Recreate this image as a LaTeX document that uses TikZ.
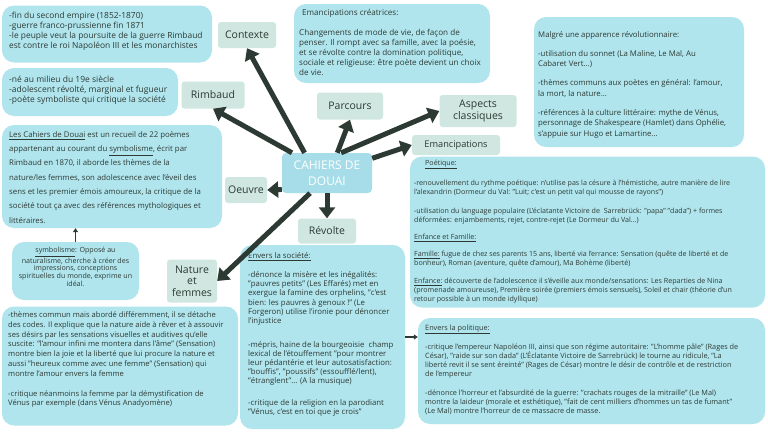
\documentclass[tikz,border=0pt]{standalone}
\usepackage{fontspec}
\setmainfont{Open Sans}
\usetikzlibrary{arrows.meta}
\definecolor{ink}{HTML}{2C3A33}
\definecolor{boxblue}{HTML}{B1E5EE}
\definecolor{lblgreen}{HTML}{CFE7E0}
\definecolor{hubblue}{HTML}{A6DDE8}
\tikzset{
  infobox/.style={fill=boxblue, rounded corners=12pt, inner sep=0pt},
  lbl/.style={fill=lblgreen, rounded corners=3pt, inner sep=1pt, align=center, text=ink,
    font=\fontsize{10.5}{11.5}\selectfont},
  hub/.style={fill=hubblue, rounded corners=4pt, align=center, text=white,
    font=\fontsize{12}{16}\selectfont},
  txt/.style={anchor=north west, inner sep=0pt, align=left, text=ink},
  bigarrow/.style={draw=ink, line width=5pt, -{Triangle[length=11pt,width=16pt]}},
  smallarrow/.style={draw=ink, line width=1.2pt, -{Triangle[length=4pt,width=5pt]}}
}
\begin{document}
\begin{tikzpicture}[x=1pt,y=-1pt]
\useasboundingbox[fill=white] (0,0) rectangle (768,431);

% information boxes
\node[infobox, minimum width=210pt, minimum height=57pt] (ctxbox) at (107,34) {};
\node[infobox, minimum width=176pt, minimum height=48pt] (rimbox) at (90,92) {};
\node[infobox, minimum width=220pt, minimum height=103pt] (oeubox) at (112,176.5) {};
\node[infobox, minimum width=127pt, minimum height=58pt] (symbox) at (75.5,271) {};
\node[infobox, minimum width=236pt, minimum height=119pt] (natbox) at (120,366) {};
\node[infobox, minimum width=196pt, minimum height=79pt] (emcbox) at (392,43.5) {};
\node[infobox, minimum width=210pt, minimum height=130pt] (malbox) at (639,82) {};
\node[infobox, minimum width=355pt, minimum height=151pt] (poebox) at (587.5,232) {};
\node[infobox, minimum width=165pt, minimum height=184pt] (socbox) at (322.5,337) {};
\node[infobox, minimum width=347pt, minimum height=106pt] (polbox) at (591.5,371) {};

% texts
\node[txt, font=\fontsize{8.4}{10}\selectfont] (ctxtxt) at (9,12.3) {-fin du second empire (1852-1870)\\
-guerre franco-prussienne fin 1871\\
-le peuple veut la poursuite de la guerre Rimbaud\\
est contre le roi Napoléon III et les monarchistes};

\node[txt, font=\fontsize{8.5}{10}\selectfont] (rimtxt) at (9,75.3) {-né au milieu du 19e siècle\\
-adolescent révolté, marginal et fugueur\\
-poète symboliste qui critique la société};

\node[txt, font=\fontsize{7.8}{14.3}\selectfont] (oeutxt) at (9,131.2) {\underline{Les Cahiers de Douai} est un recueil de 22 poèmes\\
appartenant au courant du \underline{symbolisme}, écrit par\\
Rimbaud en 1870, il aborde les thèmes de la\\
nature/les femmes, son adolescence avec l'éveil des\\
sens et les premier émois amoureux, la critique de la\\
société tout ça avec des références mythologiques et\\
littéraires.};

\node[inner sep=0pt, align=center, text=ink, font=\fontsize{7.1}{7.8}\selectfont] (symtxt) at (75.5,267) {\underline{symbolisme}: Opposé au\\
naturalisme, cherche à créer des\\
impressions, conceptions\\
spirituelles du monde, exprime un\\
idéal.};

\node[txt, font=\fontsize{7.6}{9.8}\selectfont] (nattxt) at (8,311.5) {-thèmes commun mais abordé différemment, il se détache\\
des codes. Il explique que la nature aide à rêver et à assouvir\\
ses désirs par les sensations visuelles et auditives qu'elle\\
suscite: "l'amour infini me montera dans l'âme" (Sensation)\\
montre bien la joie et la liberté que lui procure la nature et\\
aussi "heureux comme avec une femme" (Sensation) qui\\
montre l'amour envers la femme\\[10pt]
-critique néanmoins la femme par la démystification de\\
Vénus par exemple (dans Vénus Anadyomène)};

\node[txt, font=\fontsize{8.1}{10}\selectfont] (emctxt) at (299,9.2) {\hspace*{3pt}Emancipations créatrices:\\[10pt]
Changements de mode de vie, de façon de\\
penser. Il rompt avec sa famille, avec la poésie,\\
et se révolte contre la domination politique,\\
sociale et religieuse: être poète devient un choix\\
de vie.};

\node[txt, font=\fontsize{7.8}{10.5}\selectfont] (maltxt) at (538,31.3) {Malgré une apparence révolutionnaire:\\[8.5pt]
-utilisation du sonnet (La Maline, Le Mal, Au\\
Cabaret Vert...)\\[8.5pt]
-thèmes communs aux poètes en général: l'amour,\\
la mort, la nature...\\[8.5pt]
-références à la culture littéraire: mythe de Vénus,\\
personnage de Shakespeare (Hamlet) dans Ophélie,\\
s'appuie sur Hugo et Lamartine...};

\node[txt, font=\fontsize{7.1}{9}\selectfont] (poetxt) at (414,159.5) {\hspace*{11pt}\underline{Poétique:}\\[10pt]
-renouvellement du rythme poétique: n'utilise pas la césure à l'hémistiche, autre manière de lire\\
l'alexandrin (Dormeur du Val: "Luit; c'est un petit val qui mousse de rayons")\\[10pt]
-utilisation du language populaire (L'éclatante Victoire de\ \ Sarrebrück: "papa" "dada") + formes\\
déformées: enjambements, rejet, contre-rejet (Le Dormeur du Val...)\\[8pt]
\underline{Enfance et Famille:}\\[8pt]
\underline{Famille:} fugue de chez ses parents 15 ans, liberté via l'errance: Sensation (quête de liberté et de\\
bonheur), Roman (aventure, quête d'amour), Ma Bohème (liberté)\\[9pt]
\underline{Enfance:} découverte de l'adolescence il s'éveille aux monde/sensations: Les Reparties de Nina\\
(promenade amoureuse), Première soirée (premiers émois sensuels), Soleil et chair (théorie d'un\\
retour possible à un monde idyllique)};

\node[txt, font=\fontsize{7.8}{9.1}\selectfont] (soctxt) at (248,252.5) {\underline{Envers la société:}\\[10pt]
-dénonce la misère et les inégalités:\\
"pauvres petits" (Les Effarés) met en\\
exergue la famine des orphelins, "c'est\\
bien: les pauvres à genoux !" (Le\\
Forgeron) utilise l'ironie pour dénoncer\\
l'injustice\\[15pt]
-mépris, haine de la bourgeoisie\ \ champ\\
lexical de l'étouffement "pour montrer\\
leur pédantérie et leur autosatisfaction:\\
"bouffis", "poussifs" (essoufflé/lent),\\
"étranglent"... (A la musique)\\[13pt]
-critique de la religion en la parodiant\\
"Vénus, c'est en toi que je crois"};

\node[txt, font=\fontsize{7.3}{9}\selectfont] (poltxt) at (425,324.5) {\underline{Envers la politique:}\\[9pt]
-critique l'empereur Napoléon III, ainsi que son régime autoritaire: "L'homme pâle" (Rages de\\
César), "raide sur son dada" (L'Éclatante Victoire de Sarrebrück) le tourne au ridicule, "La\\
liberté revit il se sent éreinté" (Rages de César) montre le désir de contrôle et de restriction\\
de l'empereur\\[10pt]
-dénonce l'horreur et l'absurdité de la guerre: "crachats rouges de la mitraille" (Le Mal)\\
montre la laideur (morale et esthétique), "fait de cent milliers d'hommes un tas de fumant"\\
(Le Mal) montre l'horreur de ce massacre de masse.};

% labels
\node[lbl, minimum width=58pt, minimum height=26pt] (contexte) at (247,35) {Contexte};
\node[lbl, minimum width=63pt, minimum height=27pt] (rimbaud) at (213,95) {Rimbaud};
\node[lbl, minimum width=66pt, minimum height=27pt] (parcours) at (350,106) {Parcours};
\node[lbl, minimum width=77pt, minimum height=32pt] (aspects) at (478,111) {Aspects\\classiques};
\node[lbl, minimum width=88pt, minimum height=20pt, font=\fontsize{9.2}{10}\selectfont] (emancip) at (456,145) {Emancipations};
\node[lbl, minimum width=42pt, minimum height=26pt] (oeuvre) at (246,190) {Oeuvre};
\node[lbl, minimum width=58pt, minimum height=25pt] (revolte) at (327,231) {Révolte};
\node[lbl, minimum width=50pt, minimum height=43pt] (nature) at (192,281) {Nature\\et\\femmes};

\node[hub, minimum width=90pt, minimum height=40pt] (hub) at (327,173) {CAHIERS DE\\DOUAI};

% connectors
\draw[bigarrow] (hub.138) -- (contexte.south);
\draw[bigarrow] (hub.150) -- (rimbaud.south);
\draw[bigarrow] (hub.63) -- (parcours.south);
\draw[bigarrow] (hub.55) -- (aspects.west);
\draw[bigarrow] (hub.18) -- (emancip.west);
\draw[bigarrow] (hub.200) -- (oeuvre.east);
\draw[bigarrow] (hub.south) -- (revolte.north);
\draw[bigarrow] (hub.230) -- (nature.east);

\draw[smallarrow] (symbox.north) -- (symbox.north |- oeubox.south);
\draw[smallarrow] (socbox.east) -- (socbox.east -| polbox.west);
\end{tikzpicture}
\end{document}
